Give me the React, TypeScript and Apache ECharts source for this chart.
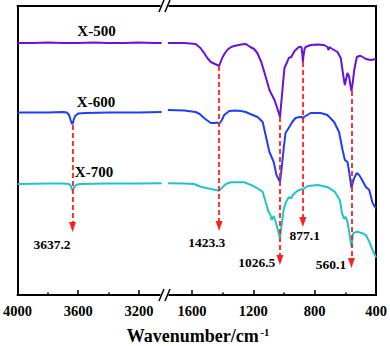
import React, { useEffect, useRef } from 'react';
import * as echarts from 'echarts';

const FONT = "'Liberation Serif', 'Times New Roman', serif";

const sampleNames = ['X-500', 'X-600', 'X-700'];
const sampleColors = ['#6a12d6', '#1f3ff0', '#22c4c8'];

const leftTicks = [4000, 3600, 3200];
const leftMinorTicks = [3800, 3400];
const rightTicks = [1600, 1200, 800, 400];
const rightMinorTicks = [1400, 1000, 600];

const x500Left: number[][] = [
  [4000, 252], [3900, 252], [3800, 252.5], [3700, 252], [3640, 252], [3600, 252],
  [3500, 252.5], [3400, 252], [3300, 252], [3200, 252.5], [3100, 252], [3050, 252],
];
const x600Left: number[][] = [
  [4000, 182.5], [3900, 182.5], [3800, 182.5], [3700, 183], [3675, 182.5], [3660, 180],
  [3650, 175], [3642, 171.5], [3637, 171], [3630, 175], [3620, 179], [3600, 181.5],
  [3550, 182], [3400, 182.5], [3200, 182.5], [3050, 183],
];
const x700Left: number[][] = [
  [4000, 111], [3800, 111.5], [3700, 111.5], [3660, 111], [3648, 109], [3640, 105],
  [3635, 104.5], [3628, 107.5], [3615, 110], [3590, 111], [3400, 111.5], [3200, 111.5],
  [3050, 111.7],
];

const x500Right: number[][] = [
  [1757, 252], [1650, 252], [1576, 251], [1545, 247], [1521, 242], [1500, 237], [1477, 233],
  [1450, 231], [1435, 230], [1423, 229], [1403, 237], [1385, 242], [1370, 245], [1345, 248],
  [1325, 249], [1280, 250.5], [1248, 251], [1220, 248], [1195, 246], [1174, 242], [1148, 233],
  [1117, 217], [1095, 205], [1062, 195], [1040, 185], [1026, 178], [1012, 202], [997, 227],
  [979, 233], [969, 237], [953, 238], [931, 244], [903, 248], [886, 248], [880, 240],
  [877, 233], [872, 240], [866, 246], [859, 248], [826, 250], [780, 250.5], [739, 250],
  [717, 248], [709, 245], [703, 248], [695, 247], [651, 243], [630, 237], [612, 218],
  [603, 210], [595, 216], [586, 222], [575, 218], [567, 210], [560, 204], [552, 212],
  [542, 225], [525, 238], [510, 239], [498, 239], [466, 236], [433, 235], [400, 236],
];
const x600Right: number[][] = [
  [1757, 185], [1650, 184.5], [1576, 183], [1550, 181], [1521, 177], [1500, 174.5], [1477, 172],
  [1451, 172], [1436, 172.5], [1423, 171], [1405, 175], [1390, 180], [1357, 184], [1320, 184.5],
  [1281, 184], [1250, 183], [1220, 181], [1172, 178], [1139, 173], [1117, 158], [1095, 143],
  [1067, 133], [1049, 120], [1026, 113], [1018, 123], [1001, 148], [990, 162], [969, 167],
  [946, 173], [925, 177], [896, 178], [884, 178], [877, 176], [870, 178], [859, 179],
  [826, 182], [761, 182], [717, 180], [673, 173], [641, 163], [618, 145], [603, 135],
  [586, 133], [575, 123], [565, 112], [560, 107], [550, 113], [542, 117], [525, 122],
  [510, 120], [498, 117], [466, 108], [444, 105], [422, 92], [400, 86.5],
];
const x700Right: number[][] = [
  [1757, 111.7], [1650, 111.5], [1587, 111], [1543, 108.3], [1500, 106.7], [1445, 105],
  [1423, 104.3], [1401, 107.7], [1379, 111], [1346, 112.7], [1259, 112.7], [1215, 110],
  [1172, 106.7], [1139, 103], [1117, 91.7], [1101, 83.3], [1088, 80], [1080, 75], [1067, 79],
  [1051, 71.7], [1040, 65], [1026, 57], [1014, 71.7], [1001, 86.7], [986, 93.3], [969, 97.7],
  [953, 96.7], [942, 100], [920, 103.3], [899, 105], [884, 106], [877, 104.5], [870, 106.5],
  [844, 109], [778, 110], [713, 107.7], [669, 103.3], [636, 95], [621, 81.7], [608, 76],
  [599, 78.3], [586, 73], [577, 65], [560, 48.3], [549, 61.7], [525, 63.3], [487, 61.7],
  [466, 60], [444, 53.3], [422, 45], [400, 37.5],
];

// peak annotations: wavenumber, arrow start value, arrow end value
const peakWavenumbers = [3637.2, 1423.3, 1026.5, 877.1, 560.1];
const arrowFrom = [170, 229, 178, 233, 204];
const arrowTo = [68, 69, 35, 73, 32];

const RED = '#ff1f1f';

function makeArrow(i: number) {
  const w = peakWavenumbers[i];
  return [
    { coord: [w, arrowFrom[i]], symbol: 'none' },
    { coord: [w, arrowTo[i]], symbol: 'triangle', symbolSize: [7, 10] },
  ];
}

function xAxes(gridIndex: number, min: number, max: number, ticks: number[], minor: number[]) {
  const line = { show: true, onZero: false, lineStyle: { color: '#000', width: 2 } };
  return [
    {
      type: 'value', gridIndex, position: 'bottom', min, max, inverse: true,
      axisLine: line,
      axisTick: { show: true, inside: true, length: 5, customValues: ticks, lineStyle: { color: '#000', width: 1.5 } },
      axisLabel: {
        show: true, customValues: ticks, margin: 8, color: '#000',
        fontFamily: FONT, fontWeight: 'bold', fontSize: 14.5,
        formatter: (v: number) => String(v),
      },
      splitLine: { show: false },
    },
    {
      type: 'value', gridIndex, position: 'top', min, max, inverse: true,
      axisLine: line, axisTick: { show: false }, axisLabel: { show: false }, splitLine: { show: false },
    },
    {
      type: 'value', gridIndex, position: 'bottom', min, max, inverse: true,
      axisLine: { show: false, onZero: false },
      axisTick: { show: true, inside: true, length: 2.5, customValues: minor, lineStyle: { color: '#000', width: 1.5 } },
      axisLabel: { show: false }, splitLine: { show: false },
    },
  ];
}

function yAxis(gridIndex: number, position: string) {
  return {
    type: 'value', gridIndex, position, min: 0, max: 289,
    axisLine: { show: true, lineStyle: { color: '#000', width: 2 } },
    axisTick: { show: false }, axisLabel: { show: false }, splitLine: { show: false },
  };
}

function lineSeries(name: string, data: number[][], color: string, axisIdx: number, markLine?: any) {
  return {
    type: 'line', name, data, xAxisIndex: axisIdx === 0 ? 0 : 3, yAxisIndex: axisIdx,
    showSymbol: false, symbol: 'none', silent: true,
    lineStyle: { color, width: 2 },
    markLine,
  };
}

function arrowMark(indices: number[]) {
  return {
    silent: true,
    symbol: ['none', 'triangle'],
    label: { show: false },
    lineStyle: { color: RED, width: 1.8, type: [5, 3] },
    itemStyle: { color: RED },
    emphasis: { disabled: true },
    data: indices.map(makeArrow),
    z: 10,
  };
}

function txt(text: string, x: number, y: number, size: number, align = 'center') {
  return {
    type: 'text', x, y, z: 50,
    style: {
      text, fill: '#000', fontFamily: FONT, fontWeight: 'bold', fontSize: size,
      align, verticalAlign: 'middle', textAlign: align, textVerticalAlign: 'middle',
    },
  };
}

function breakMark(yc: number) {
  return [
    { type: 'rect', z: 100, shape: { x: 160.5, y: yc - 3, width: 8, height: 6 }, style: { fill: '#fff' } },
    { type: 'line', z: 101, shape: { x1: 159, y1: yc + 6, x2: 164, y2: yc - 6 }, style: { stroke: '#000', lineWidth: 1.5 } },
    { type: 'line', z: 101, shape: { x1: 165, y1: yc + 6, x2: 170, y2: yc - 6 }, style: { stroke: '#000', lineWidth: 1.5 } },
  ];
}

export default function App() {
  const ref = useRef<HTMLDivElement>(null);
  useEffect(() => {
    const chart = echarts.init(ref.current!, null, { renderer: 'svg' });
    const option: any = {
      animation: false,
      grid: [
        { left: 16, top: 6, width: 149, height: 289 },
        { left: 165, top: 6, width: 211, height: 289 },
      ],
      xAxis: [
        ...xAxes(0, 3028, 4000, leftTicks, leftMinorTicks),
        ...xAxes(1, 400, 1776, rightTicks, rightMinorTicks),
      ],
      yAxis: [yAxis(0, 'left'), yAxis(1, 'right')],
      series: [
        lineSeries(sampleNames[0], x500Left, sampleColors[0], 0, arrowMark([0])),
        lineSeries(sampleNames[1], x600Left, sampleColors[1], 0),
        lineSeries(sampleNames[2], x700Left, sampleColors[2], 0),
        lineSeries(sampleNames[0], x500Right, sampleColors[0], 1, arrowMark([1, 2, 3, 4])),
        lineSeries(sampleNames[1], x600Right, sampleColors[1], 1),
        lineSeries(sampleNames[2], x700Right, sampleColors[2], 1),
      ],
      graphic: [
        txt(sampleNames[0], 96.5, 30.5, 15),
        txt(sampleNames[1], 96, 102, 15),
        txt(sampleNames[2], 94, 172, 15),
        txt('3637.2', 52, 244, 13.5),
        txt('1423.3', 206.7, 242.5, 13.5),
        txt('1026.5', 256.7, 262, 13.5),
        txt('877.1', 304.8, 235, 13.5),
        txt('560.1', 331, 264, 13.5),
        txt('Wavenumber/cm', 126.7, 335.6, 18, 'left'),
        txt('-1', 260.5, 332.3, 10.5, 'left'),
        ...breakMark(6),
        ...breakMark(295),
      ],
    };
    chart.setOption(option);
    return () => chart.dispose();
  }, []);
  return <div ref={ref} style={{ position: 'absolute', left: 0, top: 0, width: 390, height: 346 }} />;
}
